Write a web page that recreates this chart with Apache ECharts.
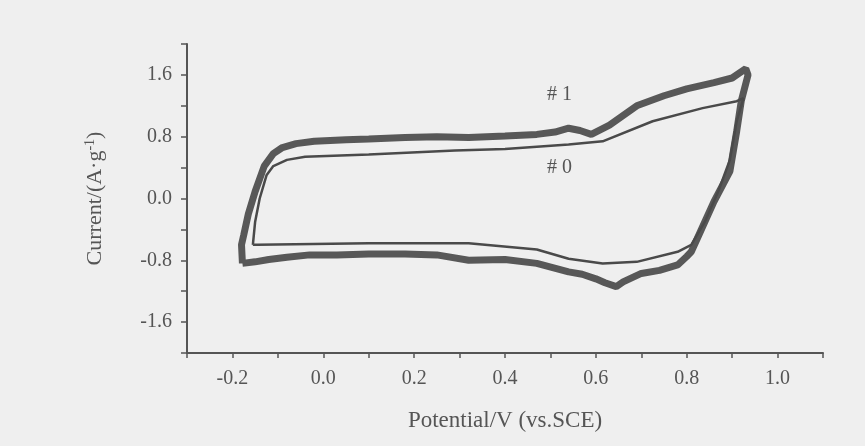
<!DOCTYPE html>
<html>
<head>
<meta charset="utf-8">
<script src="https://cdn.jsdelivr.net/npm/echarts@6/dist/echarts.min.js"></script>
<style>
  html, body { margin: 0; padding: 0; background: #efefef; }
  #chart { width: 865px; height: 446px; }
</style>
</head>
<body>
<div id="chart"></div>
<script>
// 曲线 #1（外圈，粗）
const cv1X = [-0.178, -0.18, -0.175, -0.165, -0.15, -0.13, -0.11, -0.09, -0.06, -0.02, 0.05, 0.10, 0.18, 0.25, 0.32, 0.40, 0.47, 0.51, 0.54, 0.565, 0.59, 0.63, 0.69, 0.75, 0.80, 0.86, 0.90, 0.93, 0.935, 0.92, 0.91, 0.895, 0.86, 0.83, 0.81, 0.80, 0.78, 0.74, 0.70, 0.66, 0.645, 0.62, 0.60, 0.57, 0.54, 0.47, 0.40, 0.32, 0.25, 0.18, 0.10, 0.03, -0.03, -0.08, -0.12, -0.15, -0.178];
const cv1Y = [-0.84, -0.6, -0.47, -0.2, 0.09, 0.42, 0.58, 0.66, 0.71, 0.74, 0.76, 0.77, 0.79, 0.80, 0.79, 0.81, 0.83, 0.86, 0.91, 0.88, 0.83, 0.95, 1.20, 1.33, 1.42, 1.50, 1.56, 1.68, 1.60, 1.26, 0.87, 0.35, -0.04, -0.43, -0.69, -0.75, -0.86, -0.93, -0.97, -1.08, -1.14, -1.09, -1.04, -0.98, -0.95, -0.84, -0.79, -0.80, -0.73, -0.72, -0.72, -0.73, -0.73, -0.76, -0.79, -0.82, -0.84];
// 曲线 #0（内圈，细）
const cv0X = [-0.155, -0.15, -0.14, -0.125, -0.11, -0.08, -0.04, 0.10, 0.29, 0.40, 0.54, 0.615, 0.725, 0.835, 0.91, 0.925, 0.91, 0.895, 0.87, 0.84, 0.81, 0.78, 0.69, 0.615, 0.54, 0.47, 0.32, 0.10, -0.145, -0.155];
const cv0Y = [-0.6, -0.3, 0.0, 0.3, 0.42, 0.5, 0.54, 0.57, 0.62, 0.64, 0.70, 0.74, 1.0, 1.17, 1.26, 1.30, 1.0, 0.5, 0.1, -0.3, -0.6, -0.69, -0.82, -0.84, -0.78, -0.66, -0.58, -0.58, -0.6, -0.6];

const chart = echarts.init(document.getElementById('chart'));
const font = 'Liberation Serif';
const textColor = '#555';

const zip = (xs, ys) => xs.map((x, i) => [x, ys[i]]);

const option = {
  backgroundColor: '#efefef',
  animation: false,
  grid: { left: 187, right: 42, top: 44, bottom: 93 },
  xAxis: {
    type: 'value',
    min: -0.3,
    max: 1.1,
    interval: 0.1,
    name: 'Potential/V (vs.SCE)',
    nameLocation: 'middle',
    nameGap: 56,
    nameTextStyle: { fontFamily: font, fontSize: 23, color: textColor },
    axisLine: { onZero: false, lineStyle: { color: '#555', width: 2 } },
    axisTick: { length: 5, lineStyle: { color: '#555', width: 1.5 } },
    splitLine: { show: false },
    axisLabel: {
      margin: 16,
      fontFamily: font,
      fontSize: 20,
      color: textColor,
      showMinLabel: true,
      showMaxLabel: true,
      formatter: (v) => {
        const k = Math.round(v * 10);
        if (k % 2 !== 0 || k < -2 || k > 10) return '';
        return (k / 10).toFixed(1);
      },
    },
  },
  yAxis: {
    type: 'value',
    min: -2,
    max: 2,
    interval: 0.4,
    name: 'Current/(A·g{sup|-1})',
    nameLocation: 'middle',
    nameGap: 80,
    nameTextStyle: {
      fontFamily: font,
      fontSize: 22,
      color: textColor,
      rich: {
        sup: { fontFamily: font, fontSize: 14, color: textColor, verticalAlign: 'top', padding: [0, 0, 10, 0] },
      },
    },
    axisLine: { show: true, onZero: false, lineStyle: { color: '#555', width: 2 } },
    axisTick: { show: true, length: 6, lineStyle: { color: '#555', width: 1.5 } },
    splitLine: { show: false },
    axisLabel: {
      margin: 15,
      fontFamily: font,
      fontSize: 20,
      color: textColor,
      formatter: (v) => {
        const k = Math.round(v / 0.4);
        if (k % 2 !== 0 || Math.abs(k) > 4) return '';
        return (k * 0.4).toFixed(1);
      },
    },
  },
  series: [
    {
      name: '#1',
      type: 'line',
      data: zip(cv1X, cv1Y),
      showSymbol: false,
      smooth: false,
      lineStyle: { color: '#585858', width: 7 },
      z: 2,
    },
    {
      name: '#0',
      type: 'line',
      data: zip(cv0X, cv0Y),
      showSymbol: false,
      smooth: false,
      lineStyle: { color: '#4a4a4a', width: 2.5 },
      z: 3,
    },
  ],
  graphic: [
    { type: 'text', left: 547, top: 85, style: { text: '# 1', fontFamily: font, fontSize: 20, fill: textColor } },
    { type: 'text', left: 547, top: 158, style: { text: '# 0', fontFamily: font, fontSize: 20, fill: textColor } },
  ],
};

chart.setOption(option);
</script>
</body>
</html>
